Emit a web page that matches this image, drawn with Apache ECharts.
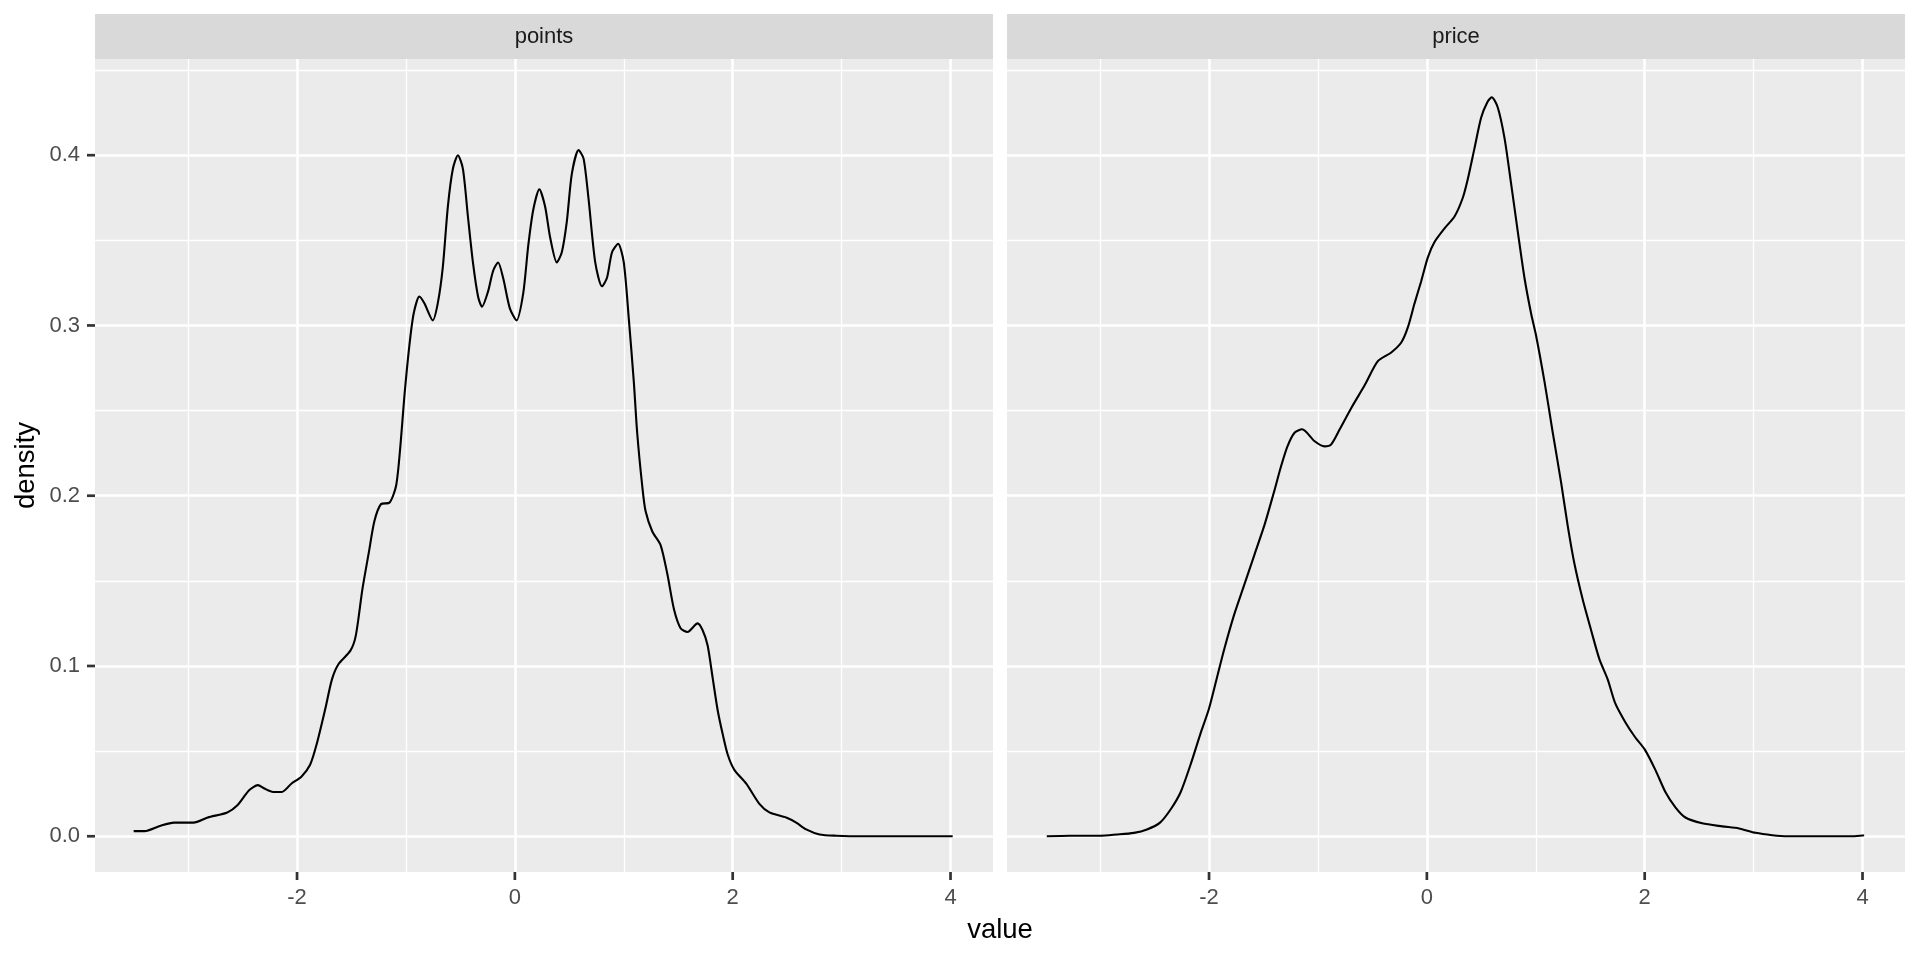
<!DOCTYPE html>
<html><head><meta charset="utf-8">
<script src="https://cdn.jsdelivr.net/npm/echarts@6/dist/echarts.min.js"></script>
<style>html,body{margin:0;padding:0;background:#fff}#c{width:1920px;height:960px}</style>
</head><body><div id="c"></div>
<script>
// ---- data ----
const facets = ['points', 'price'];
const pointsCurve = [
  [-3.50,0.003],[-3.40,0.003],[-3.26,0.006],[-3.13,0.008],[-2.95,0.008],[-2.82,0.011],[-2.64,0.014],
  [-2.55,0.018],[-2.44,0.027],[-2.36,0.030],[-2.30,0.028],[-2.22,0.026],[-2.14,0.026],[-2.05,0.031],
  [-1.96,0.035],[-1.88,0.042],[-1.82,0.054],[-1.74,0.075],[-1.68,0.092],[-1.62,0.101],[-1.51,0.109],
  [-1.46,0.118],[-1.40,0.145],[-1.34,0.167],[-1.29,0.185],[-1.23,0.195],[-1.15,0.196],[-1.09,0.206],
  [-1.05,0.230],[-1.015,0.258],[-0.969,0.288],[-0.929,0.307],[-0.877,0.317],[-0.831,0.313],[-0.754,0.303],
  [-0.708,0.313],[-0.662,0.334],[-0.615,0.370],[-0.569,0.392],[-0.523,0.400],[-0.477,0.392],[-0.431,0.364],
  [-0.385,0.337],[-0.338,0.317],[-0.302,0.311],[-0.246,0.320],[-0.200,0.332],[-0.154,0.337],[-0.108,0.328],
  [-0.046,0.310],[0.015,0.303],[0.077,0.319],[0.123,0.347],[0.169,0.368],[0.225,0.380],[0.277,0.370],
  [0.323,0.352],[0.385,0.337],[0.431,0.343],[0.477,0.361],[0.523,0.389],[0.585,0.403],[0.631,0.398],
  [0.677,0.374],[0.738,0.337],[0.800,0.323],[0.846,0.328],[0.892,0.343],[0.948,0.348],[1.000,0.337],
  [1.046,0.304],[1.092,0.267],[1.123,0.237],[1.169,0.206],[1.200,0.191],[1.262,0.179],[1.338,0.171],
  [1.400,0.154],[1.462,0.133],[1.523,0.122],[1.585,0.120],[1.677,0.125],[1.724,0.121],[1.770,0.112],
  [1.816,0.093],[1.862,0.074],[1.908,0.060],[1.954,0.048],[2.015,0.039],[2.123,0.031],[2.245,0.019],
  [2.337,0.014],[2.491,0.011],[2.583,0.008],[2.675,0.004],[2.798,0.001],[2.951,0.0003],[3.196,0.0],
  [3.50,0.0],[3.80,0.0],[4.02,0.0]
];
const priceCurve = [
  [-3.49,0.0],[-3.28,0.0003],[-3.00,0.0003],[-2.85,0.001],[-2.69,0.002],[-2.57,0.004],[-2.45,0.008],
  [-2.35,0.016],[-2.26,0.026],[-2.17,0.042],[-2.08,0.060],[-2.00,0.075],[-1.92,0.095],[-1.86,0.110],
  [-1.77,0.130],[-1.68,0.147],[-1.585,0.165],[-1.49,0.183],[-1.40,0.203],[-1.34,0.217],[-1.28,0.229],
  [-1.215,0.237],[-1.145,0.239],[-1.03,0.232],[-0.94,0.229],[-0.88,0.230],[-0.80,0.239],[-0.69,0.252],
  [-0.57,0.265],[-0.45,0.279],[-0.33,0.284],[-0.235,0.290],[-0.174,0.299],[-0.113,0.313],[-0.052,0.326],
  [0.009,0.340],[0.07,0.349],[0.162,0.357],[0.254,0.364],[0.33,0.375],[0.376,0.386],[0.437,0.404],
  [0.498,0.422],[0.554,0.431],[0.596,0.434],[0.651,0.428],[0.713,0.410],[0.774,0.383],[0.835,0.355],
  [0.896,0.328],[0.957,0.307],[1.003,0.294],[1.08,0.267],[1.156,0.237],[1.232,0.208],[1.294,0.182],
  [1.355,0.160],[1.431,0.139],[1.508,0.121],[1.584,0.104],[1.661,0.092],[1.73,0.078],[1.822,0.067],
  [1.914,0.058],[2.0,0.051],[2.098,0.039],[2.19,0.026],[2.282,0.017],[2.374,0.011],[2.528,0.0076],
  [2.712,0.0058],[2.865,0.0046],[3.018,0.002],[3.172,0.0006],[3.31,0.0],[3.6,0.0],[3.908,0.0],[4.015,0.0006]
];
const xMajor = [-2, 0, 2, 4];
const xMinor = [-3, -1, 1, 3];
const yMajor = [0, 0.1, 0.2, 0.3, 0.4];
const yMinor = [0.05, 0.15, 0.25, 0.35, 0.45];
const xRange = [-3.855, 4.39];
const yRange = [-0.021, 0.4565];
const xTitle = 'value';
const yTitle = 'density';

// ---- layout / style ----
const FONT = '"Liberation Sans", Arial, sans-serif';
const panels = [{ left: 95, width: 898 }, { left: 1007, width: 898 }];
const PTOP = 59, PH = 813, STRIP_TOP = 14, STRIP_H = 45;
const TICK_LEN = 8, TICK_W = 2.7, TICK_COLOR = '#333333';
const curves = [pointsCurve, priceCurve];

// same linear mapping as the axes (min/max over the grid rectangle)
const xPix = (i, v) => panels[i].left + (v - xRange[0]) / (xRange[1] - xRange[0]) * panels[i].width;
const yPix = v => PTOP + PH - (v - yRange[0]) / (yRange[1] - yRange[0]) * PH;

function gridLines() {
  const major = { color: '#FFFFFF', width: 2.6, type: 'solid' };
  const minor = { color: '#FFFFFF', width: 1.3, type: 'solid' };
  return [].concat(
    yMinor.map(v => ({ yAxis: v, lineStyle: minor })),
    xMinor.map(v => ({ xAxis: v, lineStyle: minor })),
    yMajor.map(v => ({ yAxis: v, lineStyle: major })),
    xMajor.map(v => ({ xAxis: v, lineStyle: major }))
  );
}

const tickGraphics = [].concat(
  ...panels.map((p, i) => xMajor.map(v => ({
    type: 'rect', silent: true, z: 100,
    shape: { x: xPix(i, v) - TICK_W / 2, y: PTOP + PH, width: TICK_W, height: TICK_LEN },
    style: { fill: TICK_COLOR }
  }))),
  yMajor.map(v => ({
    type: 'rect', silent: true, z: 100,
    shape: { x: panels[0].left - TICK_LEN, y: yPix(v) - TICK_W / 2, width: TICK_LEN, height: TICK_W },
    style: { fill: TICK_COLOR }
  }))
);

const staticGraphics = [].concat(
  panels.map((p, i) => ({
    type: 'rect', shape: { x: p.left, y: STRIP_TOP, width: p.width, height: STRIP_H },
    style: { fill: '#D9D9D9' }, silent: true
  })),
  panels.map((p, i) => ({
    type: 'text', x: p.left + p.width / 2, y: STRIP_TOP + STRIP_H / 2,
    style: { text: facets[i], fill: '#1A1A1A', font: '22px ' + FONT, align: 'center', verticalAlign: 'middle' },
    silent: true
  })),
  [{
    type: 'text', x: (panels[0].left + panels[1].left + panels[1].width) / 2, y: 930,
    style: { text: xTitle, fill: '#000000', font: '27.5px ' + FONT, align: 'center', verticalAlign: 'middle' },
    silent: true
  }, {
    type: 'text', x: 26, y: PTOP + PH / 2, rotation: Math.PI / 2,
    style: { text: yTitle, fill: '#000000', font: '27.5px ' + FONT, align: 'center', verticalAlign: 'middle' },
    silent: true
  }],
  tickGraphics
);

const option = {
  animation: false,
  backgroundColor: '#FFFFFF',
  textStyle: { fontFamily: FONT },
  grid: panels.map(p => ({
    left: p.left, top: PTOP, width: p.width, height: PH,
    show: true, backgroundColor: '#EBEBEB', borderWidth: 0,
    containLabel: false, outerBoundsMode: 'none'
  })),
  xAxis: panels.map((p, i) => ({
    type: 'value', gridIndex: i, min: xRange[0], max: xRange[1], position: 'bottom',
    axisLine: { show: false, onZero: false },
    axisTick: { show: false },
    axisLabel: { show: true, customValues: xMajor, color: '#4D4D4D', fontSize: 22, margin: 15, fontFamily: FONT,
      formatter: v => String(v) },
    splitLine: { show: false }
  })),
  yAxis: panels.map((p, i) => ({
    type: 'value', gridIndex: i, min: yRange[0], max: yRange[1], position: 'left',
    axisLine: { show: false, onZero: false },
    axisTick: { show: false },
    axisLabel: { show: i === 0, customValues: yMajor, color: '#4D4D4D', fontSize: 22, margin: 15, fontFamily: FONT,
      formatter: v => v.toFixed(1) },
    splitLine: { show: false }
  })),
  series: [].concat(
    panels.map((p, i) => ({
      type: 'line', xAxisIndex: i, yAxisIndex: i, data: [], silent: true, z: 1,
      markLine: { silent: true, symbol: ['none', 'none'], z: 1, animation: false,
        label: { show: false }, emphasis: { disabled: true }, data: gridLines() }
    })),
    curves.map((c, i) => ({
      type: 'line', name: facets[i], xAxisIndex: i, yAxisIndex: i, data: c,
      showSymbol: false, smooth: 0.25, silent: true, z: 10,
      lineStyle: { color: '#000000', width: 2.1 }
    }))
  ),
  graphic: staticGraphics
};

const chart = echarts.init(document.getElementById('c'), null, { renderer: 'canvas' });
chart.setOption(option);
</script>
</body></html>
